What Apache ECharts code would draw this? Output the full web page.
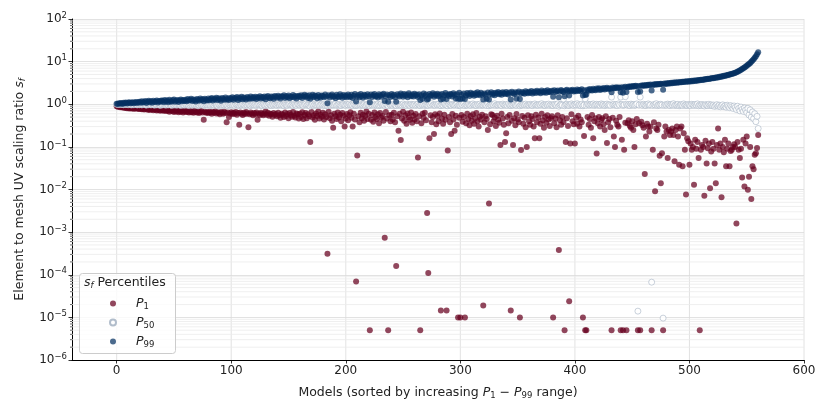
<!DOCTYPE html>
<html>
<head>
<meta charset="utf-8">
<script src="https://cdn.jsdelivr.net/npm/echarts@6/dist/echarts.min.js"></script>
<style>html,body{margin:0;padding:0;background:#fff}#chart{width:830px;height:415px}</style>
</head>
<body>
<div id="chart"></div>
<script>
// per-model percentiles of the element/mesh UV scaling ratio, models sorted by P1-P99 range
var p1 = [
0.9,0.87,0.88,0.85,0.86,0.84,0.86,0.82,0.84,0.81,0.83,0.8,0.82,0.79,0.81,0.78,0.8,0.82,0.78,0.8,
0.77,0.79,0.76,0.78,0.75,0.77,0.79,0.74,0.76,0.73,0.77,0.75,0.72,0.76,0.74,0.71,0.75,0.73,0.7,0.74,
0.72,0.7,0.74,0.69,0.72,0.7,0.67,0.73,0.69,0.71,0.66,0.7,0.68,0.72,0.65,0.69,0.67,0.71,0.64,0.68,
0.7,0.66,0.68,0.64,0.69,0.65,0.67,0.63,0.7,0.66,0.64,0.68,0.62,0.66,0.69,0.64,0.43,0.67,0.63,0.65,
0.62,0.67,0.64,0.6,0.66,0.63,0.68,0.61,0.65,0.62,0.58,0.66,0.63,0.6,0.67,0.62,0.38,0.64,0.5,0.61,
0.65,0.59,0.63,0.6,0.66,0.57,0.62,0.33,0.64,0.6,0.56,0.63,0.59,0.66,0.61,0.29,0.58,0.64,0.6,0.55,
0.62,0.58,0.64,0.43,0.6,0.56,0.63,0.59,0.55,0.61,0.68,0.57,0.63,0.54,0.6,0.58,0.51,0.62,0.56,0.59,
0.52,0.63,0.55,0.48,0.6,0.57,0.5,0.64,0.53,0.59,0.47,0.62,0.56,0.51,0.66,0.54,0.49,0.61,0.58,0.46,
0.6,0.5,0.65,0.45,0.56,0.62,0.47,0.58,0.52,0.13,0.66,0.49,0.55,0.43,0.61,0.53,0.68,0.46,0.57,0.51,
0.63,0.44,0.58,0.5,3.1e-4,0.67,0.47,0.55,0.41,0.28,0.6,0.52,0.45,0.64,0.49,0.57,0.4,0.62,0.54,0.3,
0.46,0.59,0.42,0.55,0.65,0.48,0.3,0.6,0.44,6.9e-5,0.063,0.52,0.38,0.63,0.47,0.57,0.41,0.54,0.68,0.45,
0.6,5e-6,0.43,0.56,0.39,0.64,0.5,0.45,0.58,0.36,0.62,0.48,0.53,0.41,7.4e-4,0.66,0.46,5e-6,0.55,0.4,
0.57,0.44,0.63,0.38,1.6e-4,0.52,0.24,0.6,0.145,0.46,0.67,0.41,0.55,0.35,0.61,0.49,0.43,0.64,0.37,0.54,
0.44,0.59,0.4,0.056,0.52,5e-6,0.36,0.6,0.48,0.63,0.42,2.8e-3,1.1e-4,0.16,0.55,0.38,0.5,0.2,0.58,0.34,
0.53,0.4,0.61,1.45e-5,0.46,0.35,0.57,0.43,1.45e-5,0.082,0.5,0.38,0.2,0.59,0.44,0.24,0.54,0.33,1e-5,0.48,
1e-5,0.56,0.39,0.5,1e-5,0.36,0.6,0.45,0.32,0.53,0.41,0.58,0.35,0.47,0.62,0.4,0.3,0.51,0.44,0.57,
1.9e-5,0.38,0.52,0.45,0.25,4.7e-3,0.34,0.58,0.56,0.4,0.49,0.31,0.54,0.43,0.37,0.11,0.6,0.46,0.33,0.13,
0.21,0.5,0.36,0.56,1.45e-5,0.41,0.11,0.47,0.32,0.59,0.44,0.38,1e-5,0.085,0.53,0.35,0.48,0.29,0.1,0.55,
0.4,0.33,0.52,0.45,0.3,0.16,0.57,0.38,0.49,0.16,0.35,0.6,0.42,0.28,0.5,0.37,0.55,0.44,0.31,0.47,
0.52,1e-5,0.36,0.46,0.29,0.55,3.8e-4,0.42,0.33,0.5,0.38,5e-6,0.13,0.47,0.31,2.4e-5,0.12,0.58,0.4,0.34,
0.12,0.48,0.35,0.54,0.3,0.44,0.38,1e-5,0.18,5e-6,5e-6,0.5,0.33,0.45,0.28,0.56,0.16,0.4,0.47,0.07,
0.36,0.5,0.3,0.43,0.47,0.34,0.25,0.52,0.123,0.38,0.45,0.29,5e-6,0.48,0.175,0.1,0.41,0.33,0.3,0.5,
5e-6,0.147,5e-6,0.086,0.37,5e-6,0.36,0.42,0.31,0.28,0.4,0.25,0.1,0.34,0.45,5e-6,0.36,5e-6,0.39,0.32,
0.28,0.023,0.175,0.35,0.3,0.23,0.3,5e-6,0.086,0.38,0.0091,0.27,0.25,0.33,0.062,0.014,0.071,5e-6,0.175,0.3,
0.23,0.055,0.25,0.19,0.23,0.27,0.19,0.046,0.25,0.3,0.175,0.038,0.27,0.3,0.035,0.21,0.086,0.0076,0.16,0.135,
0.038,0.12,0.086,0.1,0.013,0.147,0.09,0.13,0.055,5e-6,0.086,0.11,0.1,0.0071,0.14,0.041,0.093,0.12,0.0107,0.078,
0.13,0.09,0.041,0.014,0.11,0.27,0.086,0.12,0.0066,0.1,0.075,0.147,0.035,0.09,0.12,0.035,0.08,0.086,0.1,0.115,
0.1,1.6e-3,0.13,0.086,0.055,0.09,0.019,0.147,0.0117,0.12,0.175,0.0099,0.02,0.1,0.006,0.035,0.03,0.065,0.071,0.094,
0.19
];
var p50 = [
1.0,0.99,1.0,0.98,1.0,0.99,0.97,1.0,0.98,0.99,0.97,1.0,0.98,0.96,0.99,0.97,1.0,0.98,0.96,0.99,
0.97,0.99,0.96,0.98,1.0,0.97,0.95,0.99,0.97,0.98,0.96,1.0,0.97,0.95,0.98,0.96,0.99,0.97,0.94,0.98,
0.96,0.99,0.97,0.95,0.98,0.96,1.0,0.97,0.94,0.98,0.96,0.99,0.95,0.97,1.0,0.96,0.94,0.98,0.97,0.95,
0.99,0.96,0.98,0.94,0.97,1.0,0.95,0.98,0.96,0.99,0.94,0.97,0.95,0.99,0.96,0.98,0.94,0.97,1.0,0.95,
0.97,0.99,0.94,0.96,0.98,0.95,1.0,0.96,0.93,0.98,0.96,0.99,0.94,0.97,0.95,0.99,0.96,0.93,0.98,0.96,
0.99,0.95,0.97,0.94,1.0,0.96,0.98,0.93,0.97,0.95,0.99,0.96,0.94,0.98,0.95,1.0,0.96,0.93,0.97,0.99,
0.95,0.98,0.94,0.97,1.0,0.95,0.97,0.93,0.99,0.96,0.94,0.98,0.95,1.01,0.96,0.93,0.98,0.95,0.99,0.96,
0.94,0.98,0.96,1.0,0.95,0.97,0.93,0.99,0.96,0.94,0.98,1.01,0.95,0.97,0.93,0.99,0.96,0.94,1.0,0.97,
0.95,0.99,0.96,0.93,0.98,1.01,0.95,0.97,0.94,0.9,0.96,1.0,0.94,0.98,0.95,0.97,1.01,0.94,0.96,0.99,
0.95,0.98,0.93,0.97,0.92,0.96,1.0,0.94,0.98,0.95,0.97,1.02,0.94,0.96,0.99,0.95,0.93,0.98,1.0,0.96,
0.94,0.98,0.96,1.01,0.95,0.97,0.93,0.99,0.96,0.93,0.95,0.98,1.02,0.94,0.97,0.95,0.99,0.93,0.96,1.0,
0.95,0.93,0.98,0.96,1.01,0.94,0.97,0.95,0.99,0.93,0.96,1.02,0.95,0.97,0.94,0.99,0.96,0.92,1.0,0.95,
0.97,0.94,0.99,0.96,0.93,1.01,0.95,0.98,0.94,0.96,1.02,0.95,0.97,0.93,0.99,0.96,0.94,1.0,0.97,0.95,
0.99,0.94,0.97,1.02,0.95,0.93,0.98,0.96,1.0,0.94,0.97,0.95,0.94,0.99,0.96,1.03,0.95,0.97,0.94,0.99,
0.96,1.01,0.94,0.93,0.98,0.95,1.02,0.97,0.94,0.92,0.99,0.96,0.94,1.0,0.97,0.95,0.98,1.02,0.93,0.96,
0.94,0.99,0.96,1.03,0.93,0.97,0.95,1.0,0.96,0.94,0.98,1.02,0.95,0.97,0.93,0.99,0.96,1.01,0.94,0.97,
0.95,0.99,0.96,0.94,1.02,0.92,0.97,0.95,0.99,0.96,1.03,0.94,0.97,0.95,0.99,0.96,0.93,1.01,0.97,0.95,
0.98,0.94,1.02,0.96,0.93,0.97,0.95,1.0,0.96,0.94,0.99,1.03,0.92,0.97,0.95,0.99,0.96,1.01,0.94,0.97,
0.95,1.0,0.96,0.93,0.98,1.02,0.95,0.97,0.94,0.99,0.96,1.03,0.95,0.97,0.93,0.99,0.96,1.01,0.94,0.98,
0.95,0.93,1.0,0.97,0.94,1.02,0.9,0.96,0.99,0.95,1.32,0.92,0.97,1.0,0.95,0.93,0.98,1.02,0.96,0.94,
0.99,0.96,1.03,0.95,0.98,0.93,1.0,0.92,0.96,1.34,0.94,1.01,0.97,0.95,0.99,0.96,1.02,0.94,0.97,1.0,
0.95,0.98,0.94,1.02,0.96,0.99,0.93,0.97,1.01,0.95,0.98,0.94,1.47,0.97,1.0,0.95,0.98,0.93,1.02,0.96,
1.47,0.99,0.94,0.97,1.5,1.0,0.95,0.98,0.93,1.01,0.96,0.99,0.94,0.97,1.02,1.4e-5,0.96,1.47,0.98,0.94,
1.0,0.96,0.93,0.98,1.02,0.95,0.97,6.7e-5,0.94,0.99,0.96,1.03,0.93,0.97,0.95,1.0,0.96,9.6e-6,0.94,0.98,
0.95,1.01,0.97,0.93,0.99,0.96,1.03,0.94,0.97,0.95,1.0,0.92,0.96,0.98,0.94,1.02,0.95,0.97,0.93,0.99,
0.96,0.93,1.0,0.97,0.94,0.99,0.95,1.02,0.92,0.97,0.94,0.99,0.95,0.91,0.98,0.96,0.93,1.0,0.94,0.97,
0.92,0.96,0.89,0.94,0.98,0.9,0.95,0.87,0.93,0.97,0.88,0.92,0.85,0.95,0.89,0.83,0.93,0.87,0.8,0.91,
0.84,0.75,0.9,0.8,0.7,0.86,0.76,0.68,0.82,0.73,0.64,0.8,0.56,0.74,0.5,0.66,0.46,0.6,0.39,0.52,
0.27
];
var p99 = [
1.03,1.01,1.06,1.04,1.07,1.02,1.08,1.05,1.1,1.04,1.08,1.11,1.05,1.09,1.12,1.06,1.1,1.13,1.07,1.11,
1.14,1.08,1.17,1.1,1.13,1.19,1.07,1.15,1.2,1.11,1.18,1.09,1.21,1.13,1.16,1.23,1.1,1.19,1.14,1.22,
1.2,1.12,1.25,1.16,1.22,1.11,1.27,1.18,1.14,1.24,1.29,1.15,1.21,1.26,1.13,1.23,1.3,1.17,1.25,1.19,
1.28,1.17,1.32,1.22,1.26,1.35,1.19,1.3,1.24,1.16,1.33,1.27,1.21,1.36,1.25,1.31,1.18,1.34,1.28,1.23,
1.37,1.24,1.32,1.4,1.22,1.35,1.29,1.42,1.26,1.38,1.31,1.21,1.41,1.34,1.27,1.44,1.3,1.37,1.25,1.4,
1.33,1.45,1.28,1.4,1.36,1.47,1.26,1.42,1.35,1.5,1.31,1.44,1.38,1.29,1.48,1.4,1.34,1.52,1.37,1.45,
1.39,1.5,1.33,1.46,1.42,1.55,1.36,1.48,1.4,1.53,1.31,1.47,1.57,1.43,1.38,1.51,1.45,1.35,1.56,1.49,
1.42,1.58,1.47,1.37,1.54,1.5,1.62,1.41,1.55,1.46,1.6,1.39,1.52,1.48,1.64,1.44,1.57,1.36,1.53,1.59,
1.47,1.62,1.41,1.55,1.66,1.49,1.58,1.4,1.63,1.35,1.52,1.68,1.45,1.6,1.54,1.38,1.65,1.5,1.43,1.61,
1.56,1.46,1.69,1.52,1.06,1.63,1.44,1.58,1.7,1.49,1.55,1.39,1.66,1.53,1.47,1.72,1.57,1.42,1.64,1.5,
1.61,1.45,1.7,1.54,1.48,1.67,1.4,1.59,1.73,1.16,1.52,1.65,1.46,1.74,1.56,1.43,1.68,1.6,1.5,1.71,
1.55,1.12,1.69,1.47,1.62,1.75,1.51,1.58,1.44,1.72,1.6,1.49,1.66,1.77,1.19,1.54,1.7,1.14,1.63,1.48,
1.74,1.57,1.66,1.45,1.15,1.71,1.6,1.52,1.78,1.64,1.49,1.73,1.58,1.68,1.46,1.8,1.62,1.55,1.7,1.51,
1.76,1.6,1.67,1.48,1.72,1.25,1.63,1.35,1.79,1.56,1.69,1.3,1.34,1.74,1.58,1.65,1.82,1.5,1.7,1.61,
1.77,1.55,1.68,1.3,1.73,1.35,1.62,1.84,1.33,1.66,1.57,1.75,1.7,1.52,1.8,1.64,1.36,1.72,1.34,1.86,
1.33,1.67,1.36,1.78,1.32,1.6,1.83,1.71,1.56,1.87,1.69,1.76,1.58,1.81,1.65,1.9,1.73,1.62,1.85,1.7,
1.3,1.79,1.66,1.35,1.88,1.3,1.74,1.92,1.68,1.82,1.63,1.86,1.77,1.95,1.71,1.84,1.67,1.9,1.8,1.74,
1.93,1.78,1.7,1.88,1.3,1.97,1.82,1.74,1.91,1.36,1.86,2.0,1.32,1.79,1.94,1.84,1.76,2.02,1.89,1.81,
1.96,1.86,2.05,1.79,1.92,2.0,1.84,2.08,1.9,1.97,1.82,2.1,1.94,1.88,2.04,1.86,2.12,1.95,2.01,1.9,
2.07,1.5,2.14,1.93,2.02,2.1,1.45,1.98,2.16,2.04,1.95,1.55,2.09,2.18,2.0,1.6,2.12,2.05,2.2,1.98,
2.1,2.02,2.22,2.06,2.15,2.01,2.25,1.6,2.12,1.65,1.7,2.2,2.08,2.28,2.16,2.1,2.3,2.19,2.13,2.33,
2.22,2.36,2.17,2.3,2.26,2.4,2.21,2.34,2.43,2.28,2.38,2.32,1.9,2.46,2.36,2.42,2.5,2.39,2.47,2.44,
1.9,2.52,1.85,2.48,2.56,1.95,2.5,2.6,2.54,2.64,2.57,2.68,2.6,2.71,2.63,1.95,2.67,2.0,2.75,2.7,
2.79,2.72,2.83,2.76,2.86,2.8,2.9,2.1,2.84,2.94,2.88,2.97,2.91,3.0,2.94,3.04,2.97,2.2,3.07,3.0,
3.1,3.03,3.14,3.07,3.18,3.11,3.22,3.15,3.26,3.19,3.3,3.23,3.34,3.27,3.38,3.31,3.42,3.35,3.46,3.39,
3.5,3.43,3.54,3.48,3.59,3.53,3.64,3.58,3.7,3.64,3.76,3.7,3.82,3.77,3.89,3.84,3.96,3.92,4.04,4.0,
4.12,4.08,4.2,4.16,4.3,4.26,4.4,4.37,4.52,4.5,4.65,4.63,4.8,4.78,4.95,4.94,5.1,5.12,5.3,5.35,
5.5,5.6,5.8,6.0,6.2,6.45,6.7,7.0,7.3,7.6,8.0,8.4,8.8,9.3,9.9,10.6,11.4,12.3,13.4,14.8,
16.5
];
var xTicks = [0, 100, 200, 300, 400, 500, 600];
var seriesNames = ['P1', 'P50', 'P99'];

var FONT = 'DejaVu Sans';
var TXT = '#222';

// minor log gridlines 2..9 x 10^e
var minorY = [];
for (var e = -6; e < 2; e++) {
  for (var d = 2; d < 10; d++) {
    minorY.push([0, d * Math.pow(10, e)]);
  }
}

function points(arr) {
  return arr.map(function (v, i) { return [i, v]; });
}

var mathRich = {
  i: { fontFamily: FONT, fontSize: 12.5, fontStyle: 'italic', color: TXT },
  s: { fontFamily: FONT, fontSize: 8.5, color: TXT, padding: [6, 0, 0, 0] },
  sf: { fontFamily: FONT, fontSize: 8.5, fontStyle: 'italic', color: TXT, padding: [6, 0, 0, 0] }
};

var chartDom = document.getElementById('chart');
var myChart = echarts.init(chartDom);
var option;

option = {
  animation: false,
  backgroundColor: '#fff',
  grid: { left: 72, right: 26, top: 19, bottom: 55 },
  title: {
    text: '{i|s}{sf|f} Percentiles',
    left: 84,
    top: 275,
    padding: 0,
    textStyle: { fontFamily: FONT, fontSize: 12.5, fontWeight: 'normal', color: TXT, rich: mathRich }
  },
  graphic: [{
    type: 'rect',
    left: 79,
    top: 273,
    z: 3,
    shape: { width: 96, height: 80, r: 3 },
    style: { fill: 'rgba(255,255,255,0.8)', stroke: '#cccccc', lineWidth: 1 }
  }],
  legend: {
    data: seriesNames,
    orient: 'vertical',
    left: 109,
    top: 297,
    padding: 0,
    itemWidth: 6,
    itemHeight: 6,
    itemGap: 5,
    icon: 'circle',
    formatter: function (name) {
      return '{g|}{i|P}{s|' + name.slice(1) + '}';
    },
    textStyle: {
      fontFamily: FONT, fontSize: 12.5, color: TXT,
      rich: {
        g: { width: 15 },
        i: mathRich.i,
        s: mathRich.s
      }
    }
  },
  xAxis: {
    type: 'value',
    min: -39,
    max: 600,
    name: 'Models (sorted by increasing {i|P}{s|1} \u2212 {i|P}{s|99} range)',
    nameLocation: 'middle',
    nameGap: 25,
    nameTextStyle: { fontFamily: FONT, fontSize: 12.5, color: TXT, rich: mathRich },
    axisLine: { show: true, onZero: false, lineStyle: { color: '#000', width: 1 } },
    axisTick: { show: true, length: 3.5, customValues: xTicks, lineStyle: { color: '#000', width: 0.8 } },
    axisLabel: { customValues: xTicks, fontFamily: FONT, fontSize: 12, color: TXT, margin: 5 },
    splitLine: { show: false }
  },
  yAxis: {
    type: 'log',
    logBase: 10,
    min: 1e-6,
    max: 100,
    interval: 1,
    splitNumber: 8,
    name: 'Element to mesh UV scaling ratio {i|s}{sf|f}',
    nameLocation: 'middle',
    nameGap: 45,
    nameTextStyle: { fontFamily: FONT, fontSize: 12.5, color: TXT, rich: mathRich },
    axisLine: { show: true, onZero: false, lineStyle: { color: '#000', width: 1 } },
    axisTick: { show: true, length: 3.5, lineStyle: { color: '#000', width: 0.8 } },
    axisLabel: {
      margin: 5,
      formatter: function (v) {
        var ex = Math.round(Math.log(v) / Math.LN10);
        return '{b|10}{e|' + (ex < 0 ? '\u2212' : '') + Math.abs(ex) + '}';
      },
      rich: {
        b: { fontFamily: FONT, fontSize: 12, color: TXT },
        e: { fontFamily: FONT, fontSize: 8.5, color: TXT, padding: [0, 0, 7, 0] }
      }
    },
    splitLine: { show: true, lineStyle: { color: '#dadada', width: 0.8 } }
  },
  series: [
    {
      type: 'custom',
      name: 'xgrid',
      silent: true,
      z: 1,
      data: xTicks.map(function (v) { return [v, 1]; }),
      renderItem: function (params, api) {
        var cs = params.coordSys;
        var x = api.coord([api.value(0), api.value(1)])[0];
        return {
          type: 'line',
          shape: { x1: x, y1: cs.y, x2: x, y2: cs.y + cs.height },
          style: { stroke: '#dadada', lineWidth: 0.8 }
        };
      }
    },
    {
      type: 'custom',
      name: 'yminor',
      silent: true,
      z: 1,
      clip: false,
      data: minorY,
      renderItem: function (params, api) {
        var cs = params.coordSys;
        var y = api.coord([0, api.value(1)])[1];
        return {
          type: 'group',
          children: [
            { type: 'line', shape: { x1: cs.x, y1: y, x2: cs.x + cs.width, y2: y }, style: { stroke: '#ebebeb', lineWidth: 0.8 } },
            { type: 'line', shape: { x1: cs.x - 2, y1: y, x2: cs.x, y2: y }, style: { stroke: '#000', lineWidth: 0.6 } }
          ]
        };
      }
    },
    {
      type: 'scatter',
      name: 'P1',
      symbolSize: 6,
      data: points(p1),
      itemStyle: { color: '#67001f', opacity: 0.72 },
      z: 2
    },
    {
      type: 'scatter',
      name: 'P50',
      symbolSize: 6,
      data: points(p50),
      itemStyle: { color: '#ffffff', borderColor: '#a3b1c2', borderWidth: 0.7, opacity: 0.85 },
      z: 2
    },
    {
      type: 'scatter',
      name: 'P99',
      symbolSize: 6,
      data: points(p99),
      itemStyle: { color: '#053061', opacity: 0.72 },
      z: 2
    }
  ]
};

option && myChart.setOption(option);
</script>
</body>
</html>
